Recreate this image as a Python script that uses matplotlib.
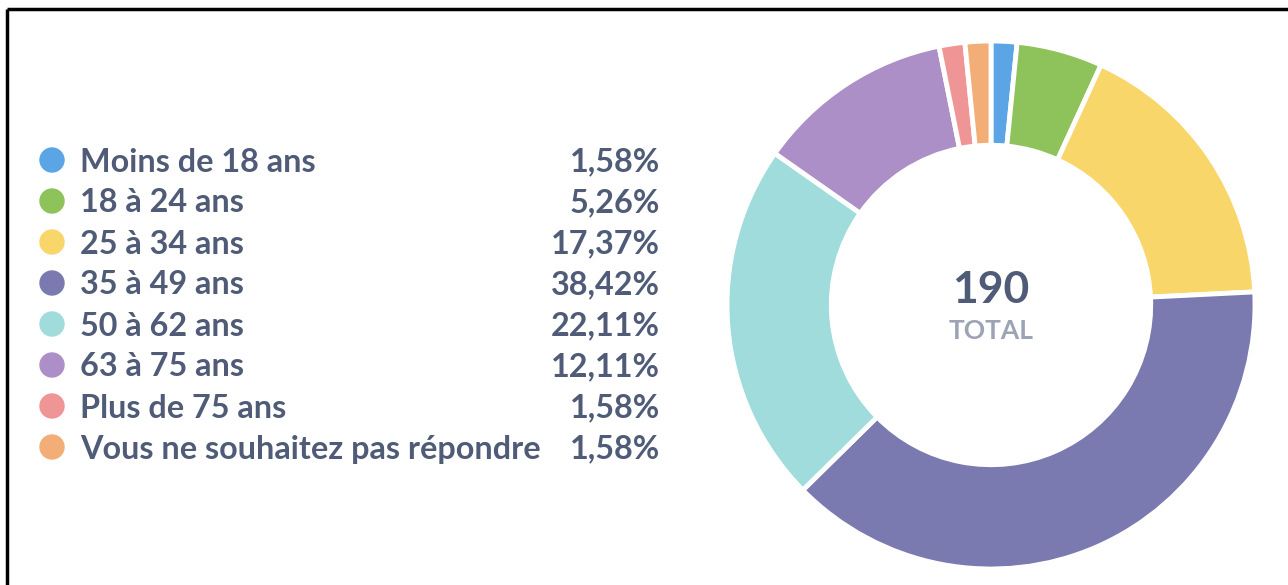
import matplotlib
matplotlib.use("Agg")
import matplotlib.pyplot as plt
from matplotlib.patches import Circle

plt.rcParams['font.family'] = ['Lato', 'DejaVu Sans']

# Data
labels = ["Moins de 18 ans", "18 à 24 ans", "25 à 34 ans", "35 à 49 ans",
          "50 à 62 ans", "63 à 75 ans", "Plus de 75 ans", "Vous ne souhaitez pas répondre"]
counts = [3, 10, 33, 73, 42, 23, 3, 3]
pct_labels = ["1,58%", "5,26%", "17,37%", "38,42%", "22,11%", "12,11%", "1,58%", "1,58%"]
colors = ["#5BA4E5", "#8DC35A", "#F8D66A", "#7A79B0",
          "#9FDCDB", "#AC8FC7", "#F09595", "#F3AE78"]
total = sum(counts)

W, H = 1288, 585
fig = plt.figure(figsize=(W / 100, H / 100), dpi=100)
ax = fig.add_axes([0, 0, 1, 1])

text_color = "#4F5B77"

# frame (top and left edges visible)
ax.plot([7, W], [H - 9, H - 9], color="black", lw=2.5, solid_capstyle="butt")
ax.plot([7, 7], [0, H - 9], color="black", lw=2.5, solid_capstyle="butt")

# donut
cx, cy, r = 991, H - 305, 264
ax.pie(counts, colors=colors, startangle=90, counterclock=False,
       center=(cx, cy), radius=r, frame=True,
       wedgeprops=dict(width=r * 0.395, edgecolor="white", linewidth=3.5))
ax.set_xlim(0, W)
ax.set_ylim(0, H)
ax.set_aspect("equal")
ax.axis("off")

ax.text(cx, H - 290, str(total), ha="center", va="center",
        fontsize=32, fontweight="bold", color=text_color)
ax.text(cx, H - 331, "TOTAL", ha="center", va="center",
        fontsize=19, fontweight="bold", color="#9CA3B5")

# legend
y0, dy = 160, 41
for i, (lab, pct, col) in enumerate(zip(labels, pct_labels, colors)):
    y = H - (y0 + i * dy)
    ax.add_patch(Circle((52, y), 12, color=col))
    ax.text(80, y - 2, lab, ha="left", va="center", fontsize=23.3,
            fontweight="bold", color=text_color)
    ax.text(660, y - 2, pct, ha="right", va="center", fontsize=23.3,
            fontweight="bold", color=text_color)

fig.savefig("out.png", dpi=100)
